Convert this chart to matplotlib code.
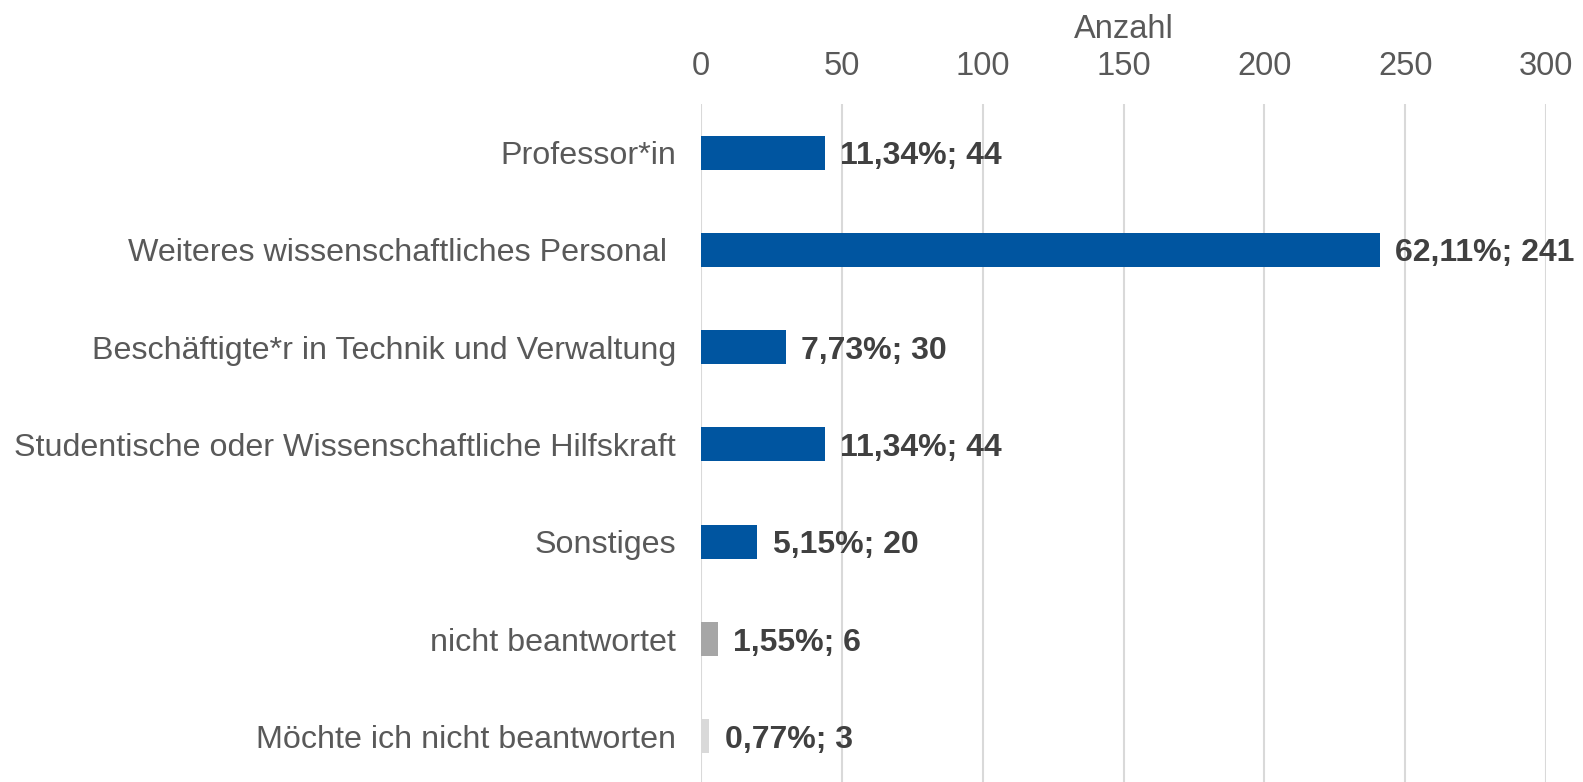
import matplotlib

matplotlib.use("Agg")
import matplotlib.pyplot as plt

categories = [
    "Professor*in",
    "Weiteres wissenschaftliches Personal ",
    "Beschäftigte*r in Technik und Verwaltung",
    "Studentische oder Wissenschaftliche Hilfskraft",
    "Sonstiges",
    "nicht beantwortet",
    "Möchte ich nicht beantworten",
]
counts = [44, 241, 30, 44, 20, 6, 3]
percents = [11.34, 62.11, 7.73, 11.34, 5.15, 1.55, 0.77]
colors = ["#0055A0"] * 5 + ["#A6A6A6", "#D9D9D9"]
xticks = [0, 50, 100, 150, 200, 250, 300]

plt.rcParams["font.family"] = ["Liberation Sans", "DejaVu Sans"]

fig = plt.figure(figsize=(15.83, 7.82), dpi=100)
W, H = 1583, 782
x0, x1, ytop = 701, 1546, 104
ax = fig.add_axes([x0 / W, 0, (x1 - x0) / W, (H - ytop) / H])

ypos = list(range(len(categories)))
ax.barh(ypos, counts, height=0.35, color=colors, zorder=3)

for y, c, p in zip(ypos, counts, percents):
    label = f"{p:.2f}".replace(".", ",") + f"%; {c}"
    ax.annotate(
        label,
        xy=(c, y),
        xytext=(11, 0),
        textcoords="offset points",
        va="center_baseline",
        ha="left",
        fontsize=23,
        fontweight="bold",
        color="#404040",
        zorder=4,
        clip_on=False,
    )

ax.set_xlim(0, 300)
ax.set_ylim(6.47, -0.5)
ax.set_xticks(xticks)
ax.set_yticks(ypos)
ax.set_yticklabels(categories, va="center_baseline")
ax.xaxis.tick_top()
ax.xaxis.set_label_position("top")
ax.set_xlabel("Anzahl", fontsize=23.5, color="#595959", labelpad=9)
ax.tick_params(axis="x", length=0, pad=16, labelsize=23.5, labelcolor="#595959")
ax.tick_params(axis="y", length=0, pad=18, labelsize=23.2, labelcolor="#595959")
ax.grid(True, axis="x", color="#D9D9D9", linewidth=1.5, zorder=0)
for spine in ax.spines.values():
    spine.set_visible(False)

fig.savefig("out.png", dpi=100)
